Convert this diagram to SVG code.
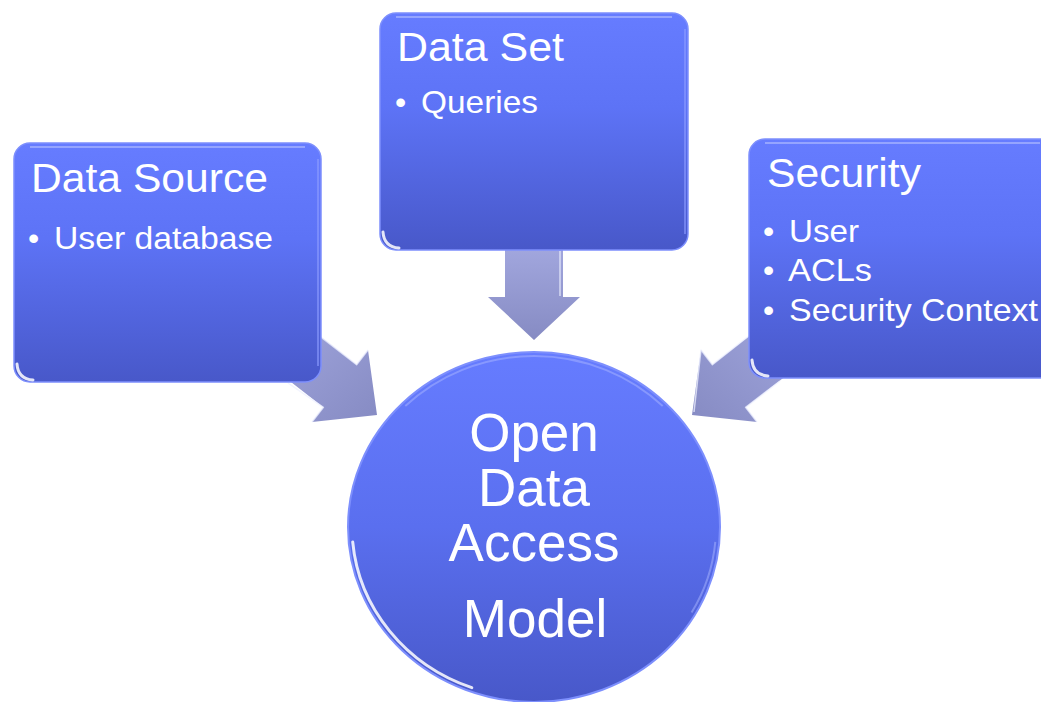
<svg xmlns="http://www.w3.org/2000/svg" width="1041" height="702" viewBox="0 0 1041 702">
  <defs>
    <linearGradient id="boxGrad" x1="0" y1="0" x2="0" y2="1">
      <stop offset="0" stop-color="#667cff"/>
      <stop offset="0.4" stop-color="#5d73f6"/>
      <stop offset="1" stop-color="#4858c9"/>
    </linearGradient>
    <linearGradient id="circGrad" x1="0" y1="0" x2="0" y2="1">
      <stop offset="0" stop-color="#667cff"/>
      <stop offset="0.5" stop-color="#5a6fef"/>
      <stop offset="1" stop-color="#4858c9"/>
    </linearGradient>
    <linearGradient id="arrLeft" x1="0" y1="0" x2="1" y2="1">
      <stop offset="0" stop-color="#a6abe2"/>
      <stop offset="1" stop-color="#868bc3"/>
    </linearGradient>
    <linearGradient id="arrRight" x1="1" y1="0" x2="0" y2="1">
      <stop offset="0" stop-color="#a6abe2"/>
      <stop offset="1" stop-color="#868bc3"/>
    </linearGradient>
    <linearGradient id="arrDown" x1="0" y1="0" x2="0" y2="1">
      <stop offset="0" stop-color="#a4a9e0"/>
      <stop offset="1" stop-color="#868bc3"/>
    </linearGradient>
  </defs>
  <style>
    .box { fill: url(#boxGrad); stroke: #7d8ffd; stroke-width: 1.5; }
    .hl-top { fill: none; stroke: #a9b6ff; stroke-width: 2; opacity: 0.7; }
    .hl-side { fill: none; stroke: #8d9cff; stroke-width: 2; opacity: 0.6; }
    .hl-corner { fill: none; stroke: #ffffff; stroke-width: 3; opacity: 0.85; stroke-linecap: round; }
    .head { font-family: "Liberation Sans", Arial, sans-serif; font-size: 41px; fill: #ffffff; }
    .item { font-family: "Liberation Sans", Arial, sans-serif; font-size: 32px; fill: #ffffff; }
    .center { font-family: "Liberation Sans", Arial, sans-serif; font-size: 53px; fill: #ffffff; text-anchor: middle; }
    .arrow-edge { fill: none; stroke: #eef0ff; stroke-width: 1.5; opacity: 0.75; stroke-linejoin: round; }
  </style>
  <rect x="0" y="0" width="1041" height="702" fill="#ffffff"/>

  <g id="connectors">
    <g id="arrow-datasource">
      <polygon points="277.6,303.1 356.6,364.7 368,350 377,415 312,422 323.4,407.3 244.4,345.7" fill="url(#arrLeft)"/>
      <polyline class="arrow-edge" points="300,321 356.6,364.7 368,350"/>
      <polyline class="arrow-edge" points="288,383 323.4,407.3 312,422"/>
    </g>
    <g id="arrow-dataset">
      <polygon points="505,240 563,240 563,297 580,297 534,340 488,297 505,297" fill="url(#arrDown)"/>
      <polyline class="arrow-edge" points="560,251 560,296"/>
    </g>
    <g id="arrow-security">
      <polygon points="791.4,303.1 712.4,364.7 701,350 692,415 757,422 745.6,407.3 824.6,345.7" fill="url(#arrRight)"/>
      <polyline class="arrow-edge" points="750,335 712.4,364.7 701,350 694,412"/>
      <polyline class="arrow-edge" points="780,381 745.6,407.3 757,422"/>
    </g>
  </g>

  <g id="node-datasource" transform="translate(14,143)">
    <rect class="box" x="0" y="0" width="307" height="239" rx="16" ry="16"/>
    <path class="hl-top" d="M16 4 H291"/>
    <path class="hl-side" d="M304 16 V223"/>
    <path class="hl-corner" d="M3 221 Q4 236 19 237"/>
    <text class="head" x="17" y="49" textLength="237" lengthAdjust="spacingAndGlyphs">Data Source</text>
    <text class="item" x="14" y="106">•</text>
    <text class="item" x="40" y="106" textLength="219" lengthAdjust="spacingAndGlyphs">User database</text>
  </g>

  <g id="node-dataset" transform="translate(380,13)">
    <rect class="box" x="0" y="0" width="308" height="237" rx="16" ry="16"/>
    <path class="hl-top" d="M16 4 H292"/>
    <path class="hl-side" d="M305 16 V221"/>
    <path class="hl-corner" d="M3 219 Q4 234 19 235"/>
    <text class="head" x="17" y="48" textLength="167" lengthAdjust="spacingAndGlyphs">Data Set</text>
    <text class="item" x="15" y="100">•</text>
    <text class="item" x="41" y="100" textLength="117" lengthAdjust="spacingAndGlyphs">Queries</text>
  </g>

  <g id="node-security" transform="translate(749,139)">
    <rect class="box" x="0" y="0" width="307" height="239" rx="16" ry="16"/>
    <path class="hl-top" d="M16 4 H291"/>
    <path class="hl-corner" d="M3 221 Q4 236 19 237"/>
    <text class="head" x="18" y="48" textLength="154" lengthAdjust="spacingAndGlyphs">Security</text>
    <text class="item" x="14" y="103">•</text>
    <text class="item" x="40" y="103" textLength="70" lengthAdjust="spacingAndGlyphs">User</text>
    <text class="item" x="14" y="142">•</text>
    <text class="item" x="39" y="142" textLength="84" lengthAdjust="spacingAndGlyphs">ACLs</text>
    <text class="item" x="14" y="182">•</text>
    <text class="item" x="40" y="182" textLength="249" lengthAdjust="spacingAndGlyphs">Security Context</text>
  </g>

  <g id="node-model">
    <ellipse cx="534" cy="527" rx="186" ry="175" fill="url(#circGrad)" stroke="#7d8ffd" stroke-width="2"/>
    <path d="M405.3 406.1 A182 171 0 0 1 662.7 406.1" fill="none" stroke="#a9b6ff" stroke-width="2" opacity="0.5"/>
    <path d="M352.7 541.9 A182 171 0 0 0 471.8 687.7" fill="none" stroke="#ffffff" stroke-width="3" opacity="0.85" stroke-linecap="round"/>
    <path d="M715.3 541.9 A182 171 0 0 1 691.6 612.5" fill="none" stroke="#a9b6ff" stroke-width="2" opacity="0.5"/>
    <text class="center" x="534" y="451">Open</text>
    <text class="center" x="534" y="506">Data</text>
    <text class="center" x="534" y="561">Access</text>
    <text class="center" x="535" y="637">Model</text>
  </g>
</svg>
